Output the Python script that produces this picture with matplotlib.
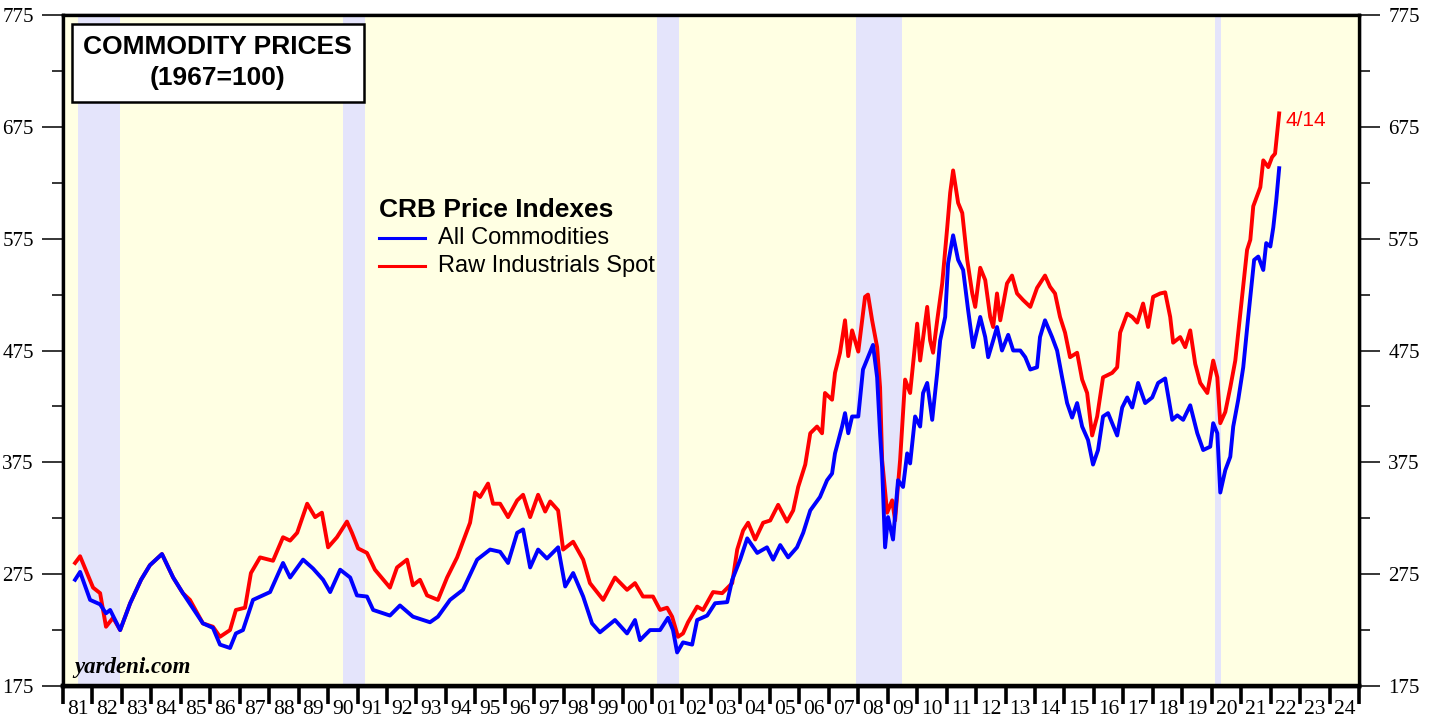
import matplotlib
matplotlib.use("Agg")
import matplotlib.pyplot as plt
from matplotlib.ticker import FixedLocator, NullFormatter, FixedFormatter

# ---------------- data (decimal years, index 1967=100) ----------------
red_t = [1981.41, 1981.58, 1982.02, 1982.26, 1982.46, 1982.70, 1982.94, 1983.28, 1983.65, 1983.95,
         1984.36, 1984.74, 1985.07, 1985.31, 1985.75, 1986.09, 1986.33, 1986.67, 1986.87, 1987.18,
         1987.38, 1987.69, 1988.13, 1988.47, 1988.71, 1988.95, 1989.29, 1989.56, 1989.79, 1990.00,
         1990.30, 1990.64, 1990.81, 1991.02, 1991.32, 1991.59, 1992.10, 1992.34, 1992.68, 1992.88,
         1993.12, 1993.36, 1993.73, 1994.04, 1994.38, 1994.82, 1994.99, 1995.16, 1995.43, 1995.60,
         1995.84, 1996.11, 1996.42, 1996.62, 1996.86, 1997.13, 1997.37, 1997.54, 1997.81, 1997.98,
         1998.32, 1998.66, 1998.89, 1999.34, 1999.74, 2000.15, 2000.42, 2000.69, 2001.03, 2001.27,
         2001.51, 2001.68, 2001.88, 2002.05, 2002.22, 2002.53, 2002.73, 2003.07, 2003.38, 2003.72,
         2003.89, 2004.09, 2004.26, 2004.50, 2004.77, 2005.01, 2005.28, 2005.58, 2005.79, 2005.96,
         2006.20, 2006.37, 2006.60, 2006.77, 2006.87, 2007.11, 2007.21, 2007.38, 2007.55, 2007.66,
         2007.79, 2008.00, 2008.23, 2008.33, 2008.47, 2008.64, 2008.74, 2008.81, 2008.98, 2009.15,
         2009.25, 2009.42, 2009.59, 2009.76, 2010.00, 2010.10, 2010.34, 2010.44, 2010.54, 2010.68,
         2010.85, 2011.02, 2011.12, 2011.22, 2011.39, 2011.53, 2011.70, 2011.87, 2011.97, 2012.14,
         2012.31, 2012.48, 2012.58, 2012.71, 2012.82, 2013.05, 2013.22, 2013.39, 2013.60, 2013.84,
         2014.07, 2014.34, 2014.51, 2014.68, 2014.85, 2015.02, 2015.19, 2015.43, 2015.60, 2015.77,
         2015.94, 2016.11, 2016.31, 2016.62, 2016.79, 2016.89, 2017.13, 2017.30, 2017.47, 2017.67,
         2017.84, 2018.01, 2018.25, 2018.42, 2018.59, 2018.69, 2018.93, 2019.10, 2019.27, 2019.44,
         2019.61, 2019.85, 2020.05, 2020.19, 2020.29, 2020.46, 2020.63, 2020.80, 2020.97, 2021.07,
         2021.20, 2021.31, 2021.41, 2021.65, 2021.75, 2021.92, 2022.05, 2022.15, 2022.22, 2022.29]
red_v = [285, 291, 263, 258, 228, 236, 225, 249, 270, 283,
         293, 272, 258, 252, 231, 228, 219, 225, 243, 245,
         276, 290, 287, 308, 305, 312, 338, 326, 330, 299,
         308, 322, 312, 298, 294, 279, 263, 281, 288, 265,
         270, 256, 252, 272, 290, 321, 348, 344, 356, 338,
         338, 326, 341, 346, 326, 346, 331, 340, 332, 297,
         304, 288, 267, 252, 272, 261, 267, 255, 255, 243,
         245, 237, 219, 222, 232, 246, 243, 259, 258, 267,
         297, 314, 321, 306, 321, 323, 337, 322, 332, 353,
         373, 401, 407, 401, 437, 431, 455, 473, 502, 470,
         493, 474, 523, 525, 502, 478, 442, 377, 330, 341,
         323, 377, 449, 437, 499, 466, 514, 484, 473, 502,
         535, 585, 616, 636, 607, 598, 556, 526, 514, 549,
         538, 505, 496, 526, 502, 535, 542, 526, 520, 514,
         531, 542, 532, 526, 505, 491, 469, 473, 449, 437,
         399, 416, 451, 455, 460, 491, 508, 505, 500, 517,
         496, 523, 526, 527, 505, 482, 487, 478, 493, 463,
         446, 437, 466, 451, 410, 420, 442, 466, 508, 532,
         565, 574, 604, 621, 645, 639, 648, 651, 669, 687]

blue_t = [1981.41, 1981.58, 1981.92, 1982.26, 1982.46, 1982.60, 1982.94, 1983.28, 1983.65, 1983.95,
          1984.36, 1984.74, 1985.07, 1985.75, 1986.09, 1986.33, 1986.67, 1986.87, 1987.11, 1987.45,
          1988.03, 1988.47, 1988.71, 1989.15, 1989.49, 1989.83, 1990.07, 1990.41, 1990.75, 1990.98,
          1991.32, 1991.53, 1992.10, 1992.44, 1992.88, 1993.46, 1993.73, 1994.14, 1994.58, 1995.06,
          1995.50, 1995.84, 1996.11, 1996.42, 1996.62, 1996.86, 1997.13, 1997.43, 1997.81, 1998.05,
          1998.32, 1998.66, 1998.96, 1999.23, 1999.74, 2000.15, 2000.42, 2000.59, 2000.93, 2001.27,
          2001.54, 2001.71, 2001.85, 2002.05, 2002.36, 2002.53, 2002.87, 2003.14, 2003.55, 2003.72,
          2003.99, 2004.23, 2004.57, 2004.90, 2005.11, 2005.35, 2005.62, 2005.92, 2006.13, 2006.37,
          2006.70, 2006.94, 2007.11, 2007.21, 2007.45, 2007.55, 2007.66, 2007.79, 2008.00, 2008.16,
          2008.33, 2008.50, 2008.64, 2008.74, 2008.81, 2008.91, 2009.01, 2009.18, 2009.35, 2009.52,
          2009.66, 2009.76, 2009.93, 2010.10, 2010.20, 2010.34, 2010.51, 2010.68, 2010.78, 2010.95,
          2011.05, 2011.22, 2011.39, 2011.56, 2011.73, 2011.90, 2012.14, 2012.31, 2012.41, 2012.58,
          2012.71, 2012.88, 2013.09, 2013.26, 2013.50, 2013.67, 2013.84, 2014.07, 2014.17, 2014.34,
          2014.58, 2014.75, 2014.92, 2015.09, 2015.26, 2015.43, 2015.60, 2015.80, 2015.97, 2016.14,
          2016.31, 2016.48, 2016.79, 2016.96, 2017.13, 2017.30, 2017.50, 2017.74, 2017.98, 2018.18,
          2018.42, 2018.66, 2018.83, 2019.03, 2019.27, 2019.51, 2019.71, 2019.95, 2020.05, 2020.19,
          2020.29, 2020.46, 2020.63, 2020.73, 2020.90, 2021.07, 2021.24, 2021.37, 2021.44, 2021.58,
          2021.75, 2021.85, 2021.99, 2022.09, 2022.19, 2022.29]
blue_v = [270, 277, 252, 248, 240, 243, 225, 249, 270, 283,
          293, 272, 258, 231, 227, 212, 209, 222, 225, 252,
          259, 285, 272, 288, 280, 270, 259, 279, 272, 256,
          255, 243, 238, 247, 237, 232, 237, 252, 261, 288,
          297, 295, 285, 312, 315, 281, 297, 289, 299, 264,
          276, 255, 231, 223, 234, 222, 234, 216, 225, 225,
          236, 225, 205, 214, 212, 234, 238, 249, 250, 270,
          288, 307, 294, 299, 288, 301, 290, 299, 312, 332,
          344, 359, 365, 383, 407, 419, 401, 416, 416, 458,
          469, 480, 451, 401, 371, 299, 326, 306, 359, 353,
          383, 374, 416, 407, 437, 446, 413, 455, 484, 505,
          553, 578, 556, 547, 511, 478, 505, 487, 469, 484,
          496, 475, 489, 475, 475, 469, 458, 460, 487, 502,
          487, 475, 451, 428, 415, 428, 407, 395, 373, 386,
          416, 419, 399, 424, 433, 424, 446, 428, 433, 446,
          450, 413, 417, 413, 426, 401, 386, 389, 410, 401,
          348, 368, 380, 407, 431, 460, 505, 538, 556, 559,
          547, 571, 568, 585, 609, 638]

recessions = [(1981.50, 1982.92), (1990.50, 1991.25), (2001.17, 2001.92),
              (2007.92, 2009.50), (2020.12, 2020.33)]

year_start, year_end = 1981, 2025
year_labels = ["%02d" % (y % 100) for y in range(year_start, year_end)]
y_ticks = [175, 275, 375, 475, 575, 675, 775]

series_names = ["All Commodities", "Raw Industrials Spot"]
last_label = "4/14"

# ---------------- figure ----------------
fig = plt.figure(figsize=(14.29, 7.19), dpi=100)
ax = fig.add_axes([63/1429, 33/719, (1359-63)/1429, (686-15)/719])
ax.set_facecolor("#FFFFE3")

for a, b in recessions:
    ax.axvspan(a, b, color="#E4E4FB", lw=0, zorder=1)

ax.plot(red_t, red_v, color="#FF0000", lw=2.8, zorder=3, solid_joinstyle="round")
ax.plot(blue_t, blue_v, color="#0000FF", lw=2.8, zorder=4, solid_joinstyle="round")

ax.set_xlim(year_start, year_end)
ax.set_ylim(175, 775)

serif = ["Liberation Serif", "DejaVu Serif"]
sans = ["Liberation Sans", "DejaVu Sans"]

# x axis
ax.xaxis.set_major_locator(FixedLocator(list(range(year_start, year_end + 1))))
ax.xaxis.set_major_formatter(NullFormatter())
ax.xaxis.set_minor_locator(FixedLocator([y + 0.5 for y in range(year_start, year_end)]))
ax.xaxis.set_minor_formatter(FixedFormatter(year_labels))
ax.tick_params(axis="x", which="major", direction="out", length=13, width=2.6, color="black")
ax.tick_params(axis="x", which="minor", length=0, pad=10, labelsize=15.5)
for lab in ax.get_xticklabels(minor=True):
    lab.set_fontfamily(serif)

# y axis left
ax.yaxis.set_major_locator(FixedLocator(y_ticks))
ax.yaxis.set_minor_locator(FixedLocator([v + 50 for v in y_ticks[:-1]]))
ax.yaxis.set_minor_formatter(NullFormatter())
ax.tick_params(axis="y", which="major", direction="out", length=15, width=1.1, pad=6, labelsize=15)
ax.tick_params(axis="y", which="minor", direction="out", length=8, width=1.1)
for lab in ax.get_yticklabels():
    lab.set_fontfamily(serif)

# right axis
ax2 = ax.twinx()
ax2.set_ylim(175, 775)
ax2.yaxis.set_major_locator(FixedLocator(y_ticks))
ax2.yaxis.set_minor_locator(FixedLocator([v + 50 for v in y_ticks[:-1]]))
ax2.yaxis.set_minor_formatter(NullFormatter())
ax2.tick_params(axis="y", which="major", direction="out", length=15, width=1.1, pad=6, labelsize=15)
ax2.tick_params(axis="y", which="minor", direction="out", length=8, width=1.1)
for lab in ax2.get_yticklabels():
    lab.set_fontfamily(serif)

for a in (ax, ax2):
    a.spines["left"].set_linewidth(2.4)
    a.spines["right"].set_linewidth(2.4)
    a.spines["top"].set_linewidth(2.4)
    a.spines["bottom"].set_linewidth(3.2)
ax2.set_zorder(ax.get_zorder() - 1)
ax.patch.set_visible(True)

# title box
ax.text(0.1195, 0.929, "COMMODITY PRICES\n(1967=100)", transform=ax.transAxes,
        ha="center", va="center", fontsize=19, fontweight="bold", family=sans,
        linespacing=1.36, zorder=6,
        bbox=dict(boxstyle="square,pad=0.44", fc="white", ec="black", lw=1.8))

# legend
ax.text(0.244, 0.710, "CRB Price Indexes", transform=ax.transAxes, ha="left", va="center",
        fontsize=19, fontweight="bold", family=sans, zorder=6)
ax.plot([0.244, 0.279], [0.668, 0.668], transform=ax.transAxes, color="#0000FF", lw=2.2, zorder=6)
ax.plot([0.244, 0.279], [0.626, 0.626], transform=ax.transAxes, color="#FF0000", lw=2.2, zorder=6)
ax.text(0.289, 0.668, series_names[0], transform=ax.transAxes, ha="left", va="center",
        fontsize=17, family=sans, zorder=6)
ax.text(0.289, 0.626, series_names[1], transform=ax.transAxes, ha="left", va="center",
        fontsize=17, family=sans, zorder=6)

# end label
ax.text(red_t[-1] + 0.22, red_v[-1] - 6, last_label, ha="left", va="center",
        fontsize=15, color="#FF0000", family=sans, zorder=6)

# source
ax.text(0.009, 0.012, "yardeni.com", transform=ax.transAxes, ha="left", va="bottom",
        fontsize=16.5, fontweight="bold", fontstyle="italic", family=serif, zorder=6)

fig.savefig("out.png", dpi=100)
